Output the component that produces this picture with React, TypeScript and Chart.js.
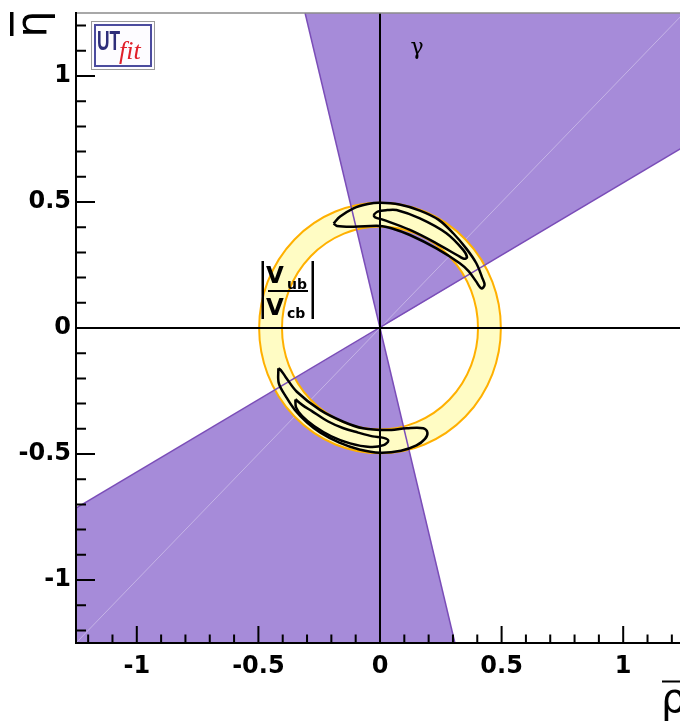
import { useEffect, useRef } from 'react'
import Chart from 'chart.js/auto'

type Pt = [number, number]

// axis range and ticks
const AXIS_MIN = -1.25
const AXIS_MAX = 1.25
const MAJOR_TICKS = [-1, -0.5, 0, 0.5, 1]
const MINOR_TICKS = [
  -1.2, -1.1, -0.9, -0.8, -0.7, -0.6, -0.4, -0.3, -0.2, -0.1,
  0.1, 0.2, 0.3, 0.4, 0.6, 0.7, 0.8, 0.9, 1.1, 1.2
]

// gamma constraint (two wedges through the origin)
const GAMMA_UPPER: Pt[] = [[0, 0], [1.25, 0.72], [1.25, 1.25], [-0.308, 1.25]]
const GAMMA_LOWER: Pt[] = [[0, 0], [-1.25, -0.715], [-1.25, -1.25], [0.308, -1.25]]
const GAMMA_EDGE_STEEP: Pt[] = [[-0.308, 1.25], [0.308, -1.25]]
const GAMMA_EDGE_SHALLOW: Pt[] = [[-1.25, -0.715], [1.25, 0.72]]
const GAMMA_SEAM: Pt[] = [[-1.25, -1.25], [1.25, 1.25]]

// |Vub/Vcb| ring radii
const VUB_INNER = 0.403
const VUB_OUTER = 0.497

// combined fit contours
const CONTOUR_UP_OUTER: Pt[] = [
  [-0.191, 0.415], [-0.164, 0.442], [-0.109, 0.475], [-0.05, 0.492], [0, 0.497],
  [0.08, 0.49], [0.164, 0.466], [0.24, 0.43], [0.301, 0.376], [0.355, 0.315],
  [0.396, 0.257], [0.42, 0.2], [0.43, 0.171], [0.417, 0.157], [0.395, 0.185],
  [0.365, 0.225], [0.328, 0.257], [0.232, 0.316], [0.123, 0.369], [0.05, 0.395],
  [0, 0.405], [-0.109, 0.402], [-0.177, 0.405]
]
const CONTOUR_UP_INNER: Pt[] = [
  [-0.027, 0.448], [-0.01, 0.462], [0.03, 0.468], [0.068, 0.468], [0.164, 0.435],
  [0.273, 0.376], [0.342, 0.31], [0.358, 0.28], [0.345, 0.275], [0.328, 0.283],
  [0.232, 0.336], [0.123, 0.389], [0.014, 0.429], [-0.02, 0.439]
]
const CONTOUR_DOWN_OUTER: Pt[] = [
  [-0.418, -0.16], [-0.416, -0.22], [-0.385, -0.275], [-0.35, -0.325], [-0.3, -0.375],
  [-0.245, -0.415], [-0.167, -0.455], [-0.085, -0.482], [0, -0.495], [0.086, -0.487],
  [0.15, -0.466], [0.185, -0.44], [0.195, -0.415], [0.178, -0.398], [0.11, -0.398],
  [0.027, -0.405], [-0.07, -0.398], [-0.151, -0.372], [-0.247, -0.325], [-0.342, -0.253],
  [-0.389, -0.193], [-0.408, -0.167]
]
const CONTOUR_DOWN_INNER: Pt[] = [
  [-0.348, -0.283], [-0.345, -0.315], [-0.32, -0.35], [-0.27, -0.39], [-0.2, -0.43],
  [-0.123, -0.458], [-0.041, -0.472], [0.015, -0.465], [0.034, -0.447], [0.015, -0.436],
  [-0.03, -0.43], [-0.09, -0.415], [-0.15, -0.398], [-0.215, -0.37], [-0.28, -0.33],
  [-0.32, -0.305]
]

const PURPLE = '#a68bd9'
const PURPLE_EDGE = '#7a4db8'
const YELLOW = '#fffcc4'
const ORANGE = '#ffb000'

const TICK_FONT = { family: '"DejaVu Sans", sans-serif', weight: 'bold' as const, size: 24 }

const toXY = (pts: Pt[]) => pts.map(([x, y]) => ({ x, y }))
const closed = (pts: Pt[]) => [...pts, pts[0]]

const line = (label: string, pts: Pt[], color: string, width: number, order: number, extra = {}) => ({
  label,
  data: toXY(pts),
  showLine: true,
  pointRadius: 0,
  borderColor: color,
  borderWidth: width,
  fill: false,
  order,
  ...extra
})

const ringPlugin = {
  id: 'vubRing',
  afterDatasetDraw(chart: any, args: any) {
    if (chart.data.datasets[args.index].label !== 'seam') return
    const { ctx, scales: { x, y } } = chart
    const cx = x.getPixelForValue(0)
    const cy = y.getPixelForValue(0)
    const rx = (r: number) => x.getPixelForValue(r) - cx
    const ry = (r: number) => cy - y.getPixelForValue(r)
    ctx.save()
    ctx.beginPath()
    ctx.ellipse(cx, cy, rx(VUB_OUTER), ry(VUB_OUTER), 0, 0, Math.PI * 2)
    ctx.moveTo(cx + rx(VUB_INNER), cy)
    ctx.ellipse(cx, cy, rx(VUB_INNER), ry(VUB_INNER), 0, 0, Math.PI * 2)
    ctx.fillStyle = YELLOW
    ctx.fill('evenodd')
    ctx.strokeStyle = ORANGE
    ctx.lineWidth = 2
    for (const r of [VUB_OUTER, VUB_INNER]) {
      ctx.beginPath()
      ctx.ellipse(cx, cy, rx(r), ry(r), 0, 0, Math.PI * 2)
      ctx.stroke()
    }
    ctx.restore()
  }
}

const framePlugin = {
  id: 'rootFrame',
  afterDatasetsDraw(chart: any) {
    const { ctx, chartArea: a, scales: { x, y } } = chart
    ctx.save()
    ctx.strokeStyle = '#8c8c8c'
    ctx.lineWidth = 1.5
    ctx.beginPath()
    ctx.moveTo(a.left, a.top)
    ctx.lineTo(a.right, a.top)
    ctx.lineTo(a.right, a.bottom)
    ctx.stroke()

    ctx.strokeStyle = '#000'
    ctx.lineWidth = 2
    ctx.beginPath()
    for (const v of MAJOR_TICKS) {
      const px = x.getPixelForValue(v)
      ctx.moveTo(px, a.bottom)
      ctx.lineTo(px, a.bottom - 17)
      const py = y.getPixelForValue(v)
      ctx.moveTo(a.left, py)
      ctx.lineTo(a.left + 19, py)
    }
    for (const v of MINOR_TICKS) {
      const px = x.getPixelForValue(v)
      ctx.moveTo(px, a.bottom)
      ctx.lineTo(px, a.bottom - 8.5)
      const py = y.getPixelForValue(v)
      ctx.moveTo(a.left, py)
      ctx.lineTo(a.left + 10, py)
    }
    ctx.stroke()
    ctx.restore()
  },
  afterDraw(chart: any) {
    const { ctx } = chart
    ctx.save()
    ctx.fillStyle = '#000'

    // y title: eta-bar, rotated
    ctx.save()
    ctx.translate(46, 24)
    ctx.rotate(-Math.PI / 2)
    ctx.font = '43px "DejaVu Sans"'
    ctx.textAlign = 'center'
    ctx.textBaseline = 'alphabetic'
    ctx.fillText('η', 0, 0)
    ctx.restore()
    ctx.fillRect(10, 12, 3.5, 24)

    // x title: rho-bar
    ctx.font = '40px "DejaVu Sans"'
    ctx.textAlign = 'left'
    ctx.fillText('ρ', 661, 712)
    ctx.fillRect(662, 680.5, 20, 2)

    // gamma label
    ctx.font = '22px "DejaVu Serif"'
    ctx.textAlign = 'center'
    ctx.fillText('γ', 417, 54)

    // |Vub / Vcb| label
    ctx.textAlign = 'left'
    ctx.font = 'bold 23px "DejaVu Sans"'
    ctx.fillText('V', 266, 283)
    ctx.fillText('V', 266, 315)
    ctx.font = 'bold 14px "DejaVu Sans"'
    ctx.fillText('ub', 287, 289)
    ctx.fillText('cb', 287, 318)
    ctx.fillRect(268, 290, 40, 2)
    ctx.fillRect(261.5, 261, 2.5, 58)
    ctx.fillRect(311.5, 261, 2.5, 58)

    // UTfit logo
    ctx.fillStyle = '#fdfcff'
    ctx.fillRect(92, 22, 62, 47)
    ctx.strokeStyle = '#9a9a9a'
    ctx.lineWidth = 1
    ctx.strokeRect(91.5, 21.5, 63, 48)
    ctx.strokeStyle = '#4b4b9e'
    ctx.lineWidth = 2
    ctx.strokeRect(95, 25, 56, 41)
    ctx.save()
    ctx.translate(97, 50)
    ctx.scale(0.62, 1)
    ctx.fillStyle = '#2e2e7a'
    ctx.font = 'bold 28px "Liberation Sans"'
    ctx.fillText('UT', 0, 0)
    ctx.restore()
    ctx.fillStyle = '#e0202a'
    ctx.font = 'italic 26px "Liberation Serif"'
    ctx.fillText('fit', 119, 59)

    ctx.restore()
  }
}

export default function App() {
  const canvasRef = useRef<HTMLCanvasElement>(null)
  const chartRef = useRef<Chart | null>(null)

  useEffect(() => {
    document.body.style.margin = '0'
    document.body.style.overflow = 'hidden'
    if (!canvasRef.current) return
    const ctx = canvasRef.current.getContext('2d')
    if (!ctx) return

    const scaleBase = {
      type: 'linear' as const,
      min: AXIS_MIN,
      max: AXIS_MAX,
      afterBuildTicks: (s: any) => {
        s.ticks = MAJOR_TICKS.map((value) => ({ value }))
      },
      grid: { display: false, drawTicks: false },
      border: { display: true, color: '#000', width: 2, z: 1 },
      ticks: {
        color: '#000',
        font: TICK_FONT,
        autoSkip: false,
        maxRotation: 0,
        callback: (v: any) => String(v)
      }
    }

    const noEdgePadding = (s: any) => {
      s.paddingTop = 0
      s.paddingBottom = 0
      s.paddingLeft = 0
      s.paddingRight = 0
    }

    chartRef.current = new Chart(ctx, {
      type: 'scatter',
      data: {
        datasets: [
          line('gammaUp', closed(GAMMA_UPPER), PURPLE, 0, 10, { fill: 'shape', backgroundColor: PURPLE }),
          line('gammaDown', closed(GAMMA_LOWER), PURPLE, 0, 10, { fill: 'shape', backgroundColor: PURPLE }),
          line('seam', GAMMA_SEAM, 'rgba(255,255,255,0.35)', 1, 9),
          line('edgeSteep', GAMMA_EDGE_STEEP, PURPLE_EDGE, 1.5, 7),
          line('edgeShallow', GAMMA_EDGE_SHALLOW, PURPLE_EDGE, 1.5, 7),
          line('c1', closed(CONTOUR_UP_OUTER), '#000', 2.5, 5, { tension: 0.35 }),
          line('c2', closed(CONTOUR_UP_INNER), '#000', 2.5, 5, { tension: 0.35 }),
          line('c3', closed(CONTOUR_DOWN_OUTER), '#000', 2.5, 5, { tension: 0.35 }),
          line('c4', closed(CONTOUR_DOWN_INNER), '#000', 2.5, 5, { tension: 0.35 }),
          line('zeroX', [[AXIS_MIN, 0], [AXIS_MAX, 0]], '#000', 2, 1),
          line('zeroY', [[0, AXIS_MIN], [0, AXIS_MAX]], '#000', 2, 1)
        ]
      },
      options: {
        animation: false,
        responsive: false,
        events: [],
        layout: { padding: { top: 13, right: 16, left: 0, bottom: 0 } },
        plugins: {
          legend: { display: false },
          tooltip: { enabled: false }
        },
        scales: {
          x: {
            ...scaleBase,
            afterFit: (s: any) => { s.height = 79; noEdgePadding(s) },
            ticks: { ...scaleBase.ticks, padding: 9 }
          },
          y: {
            ...scaleBase,
            afterFit: (s: any) => { s.width = 76; noEdgePadding(s) },
            ticks: { ...scaleBase.ticks, padding: 5 }
          }
        }
      },
      plugins: [ringPlugin, framePlugin]
    })

    return () => {
      if (chartRef.current) chartRef.current.destroy()
    }
  }, [])

  return (
    <div style={{ width: 680, height: 722, overflow: 'hidden', position: 'relative', background: '#fff' }}>
      <canvas ref={canvasRef} width={700} height={722}></canvas>
    </div>
  )
}
